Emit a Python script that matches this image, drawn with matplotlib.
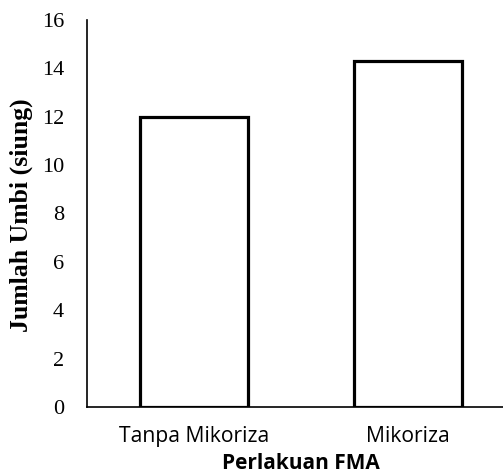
import matplotlib
matplotlib.use("Agg")
import matplotlib.pyplot as plt
import numpy as np

# data
categories = ["Tanpa Mikoriza", "Mikoriza"]
values = [12.0, 14.3]
yticks = [0, 2, 4, 6, 8, 10, 12, 14, 16]

fig = plt.figure(figsize=(5.03, 4.74), dpi=100)
# axes box in pixel terms: left 87, right ~515 (cropped), top 20, bottom 407
ax = fig.add_axes([87 / 503, 1 - 407 / 474, (515 - 87) / 503, (407 - 20) / 474])

x = np.arange(len(categories))
ax.bar(x, values, width=0.507, color="white", edgecolor="black", linewidth=2.3, zorder=3)

ax.set_xlim(-0.5, 1.5)
ax.set_ylim(0, 16)
ax.set_yticks(yticks)
ax.set_yticklabels([str(t) for t in yticks], fontfamily="Liberation Serif", fontsize=16)
ax.set_xticks(x)
ax.set_xticklabels(categories, fontfamily="Open Sans", fontsize=15.2)

ax.spines["top"].set_visible(False)
ax.spines["right"].set_visible(False)
ax.spines["left"].set_linewidth(1.2)
ax.spines["bottom"].set_linewidth(1.2)
ax.tick_params(axis="y", length=0, pad=16.5)
ax.tick_params(axis="x", length=0, pad=14)

ax.set_ylabel("Jumlah Umbi (siung)", fontfamily="Liberation Serif", fontweight="bold", fontsize=18.5)
ax.yaxis.set_label_coords(-54 / 428, 0.496)
ax.set_xlabel("Perlakuan FMA", fontfamily="Open Sans", fontweight="bold", fontsize=15, labelpad=4)

fig.savefig("out.png", dpi=100)
